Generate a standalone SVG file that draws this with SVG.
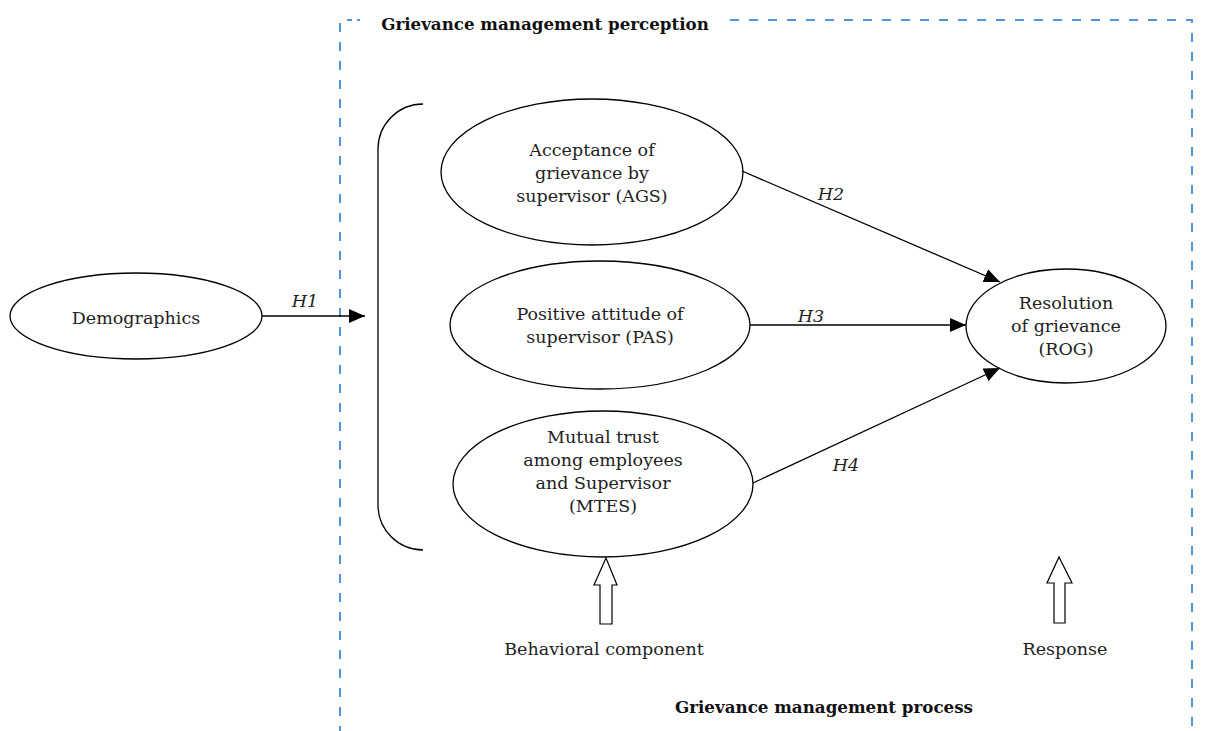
<svg xmlns="http://www.w3.org/2000/svg" width="1210" height="731" viewBox="0 0 1210 731">
<defs>
<marker id="ah" markerWidth="16" markerHeight="14" refX="16" refY="7" orient="auto" markerUnits="userSpaceOnUse">
<path d="M0,0 L16,7 L0,14 Z" fill="#000"/>
</marker>
<style>
.t{font-family:"DejaVu Serif","Liberation Serif",serif;font-size:17.5px;fill:#222;text-anchor:middle}
.b{font-family:"DejaVu Serif","Liberation Serif",serif;font-size:16.7px;font-weight:bold;fill:#111;text-anchor:middle}
.i{font-family:"DejaVu Serif","Liberation Serif",serif;font-size:17.5px;font-style:italic;fill:#222;text-anchor:middle}
.n{fill:#fff;stroke:#000;stroke-width:1.3}
.c{stroke:#000;stroke-width:1.3;fill:none}
.d{stroke:#4f95d8;stroke-width:2;fill:none;stroke-dasharray:9 10}
.h{fill:#fff;stroke:#000;stroke-width:1.2}
</style>
</defs>
<rect width="1210" height="731" fill="#fff"/>
<g id="frame">
<path class="d" d="M340,735 L340,20 L352,20"/>
<line x1="357" y1="20" x2="360" y2="20" stroke="#4f95d8" stroke-width="2"/>
<path class="d" d="M730,20 L1192,20 L1192,735"/>
<text class="b" x="545" y="30">Grievance management perception</text>
<text class="b" x="824" y="713">Grievance management process</text>
</g>
<g id="bracket">
<path class="c" d="M423,104 A45,45 0 0 0 378,149 L378,505 A45,45 0 0 0 423,550"/>
</g>
<g id="demographics">
<ellipse class="n" cx="136" cy="316" rx="126" ry="43"/>
<text class="t" x="136" y="324">Demographics</text>
</g>
<g id="ags">
<ellipse class="n" cx="592" cy="172" rx="151" ry="73"/>
<text class="t" x="592" y="156">Acceptance of</text>
<text class="t" x="592" y="179">grievance by</text>
<text class="t" x="592" y="202">supervisor (AGS)</text>
</g>
<g id="pas">
<ellipse class="n" cx="600" cy="325" rx="150" ry="64"/>
<text class="t" x="600" y="320">Positive attitude of</text>
<text class="t" x="600" y="343">supervisor (PAS)</text>
</g>
<g id="mtes">
<ellipse class="n" cx="603" cy="484" rx="150" ry="73"/>
<text class="t" x="603" y="443">Mutual trust</text>
<text class="t" x="603" y="466">among employees</text>
<text class="t" x="603" y="489">and Supervisor</text>
<text class="t" x="603" y="512">(MTES)</text>
</g>
<g id="rog">
<ellipse class="n" cx="1066" cy="326" rx="100" ry="57"/>
<text class="t" x="1066" y="309">Resolution</text>
<text class="t" x="1066" y="332">of grievance</text>
<text class="t" x="1066" y="355">(ROG)</text>
</g>
<g id="connectors">
<line class="c" x1="262" y1="316" x2="365" y2="316" marker-end="url(#ah)"/>
<line class="c" x1="742" y1="171" x2="1000" y2="282" marker-end="url(#ah)"/>
<line class="c" x1="750" y1="325" x2="966" y2="325" marker-end="url(#ah)"/>
<line class="c" x1="753" y1="483" x2="1000" y2="368" marker-end="url(#ah)"/>
<text class="i" x="305" y="307">H1</text>
<text class="i" x="831" y="200">H2</text>
<text class="i" x="811" y="322">H3</text>
<text class="i" x="846" y="471">H4</text>
</g>
<g id="behavioral">
<path class="h" d="M606,558 L617,585 L612,585 L612,624 L600,624 L600,585 L594,585 Z"/>
<text class="t" x="604" y="655">Behavioral component</text>
</g>
<g id="response">
<path class="h" d="M1059,557 L1072,583 L1065,583 L1065,623 L1054,623 L1054,583 L1047,583 Z"/>
<text class="t" x="1065" y="655">Response</text>
</g>
</svg>
